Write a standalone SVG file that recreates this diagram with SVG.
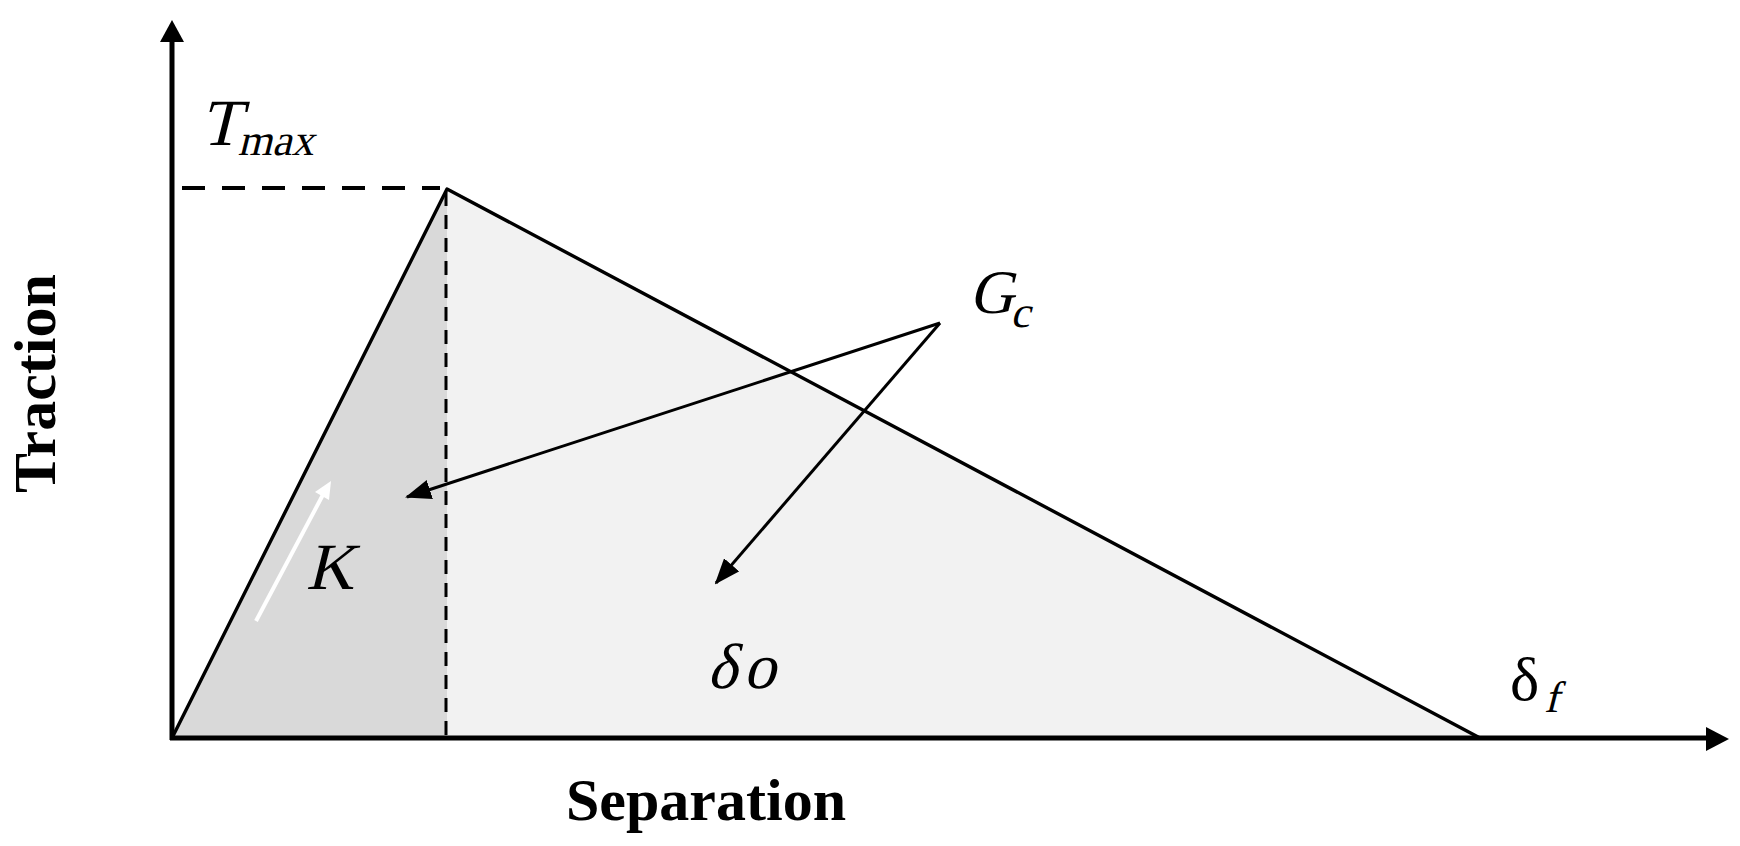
<svg xmlns="http://www.w3.org/2000/svg" width="1740" height="846" viewBox="0 0 1740 846">
<style>
.serif{font-family:"Liberation Serif","Times New Roman",serif;fill:#000}
.bold{font-weight:bold}
.edge{fill:none;stroke:#000;stroke-width:3.4;stroke-linejoin:round}
</style>
<defs>
<marker id="ah" viewBox="0 0 26 20" refX="24" refY="10" markerWidth="26" markerHeight="20" markerUnits="userSpaceOnUse" orient="auto">
<path d="M0,0 L26,10 L0,20 z" fill="#000"/>
</marker>
</defs>
<rect width="1740" height="846" fill="#fff"/>
<g id="areas">
<polygon points="172,738 447,189 447,738" fill="#d9d9d9"/>
<polygon points="447,189 1480,738 447,738" fill="#f2f2f2"/>
</g>
<g id="curve">
<polyline class="edge" points="172,738 447,189 1480,738"/>
<line x1="446" y1="192" x2="446" y2="738" stroke="#000" stroke-width="3" stroke-dasharray="14,9"/>
<line x1="172" y1="188" x2="440" y2="188" stroke="#000" stroke-width="4" stroke-dasharray="23,17" stroke-dashoffset="-10"/>
</g>
<g id="axes">
<line x1="172" y1="740" x2="172" y2="40" stroke="#000" stroke-width="5"/>
<polygon points="172,20 160,42 184,42" fill="#000"/>
<line x1="170" y1="738" x2="1708" y2="738" stroke="#000" stroke-width="5"/>
<polygon points="1729,739 1706,727 1706,751" fill="#000"/>
</g>
<g id="connectors">
<line x1="940" y1="323" x2="407" y2="497" stroke="#000" stroke-width="3" marker-end="url(#ah)"/>
<line x1="940" y1="323" x2="716" y2="583" stroke="#000" stroke-width="3" marker-end="url(#ah)"/>
<line x1="256" y1="621" x2="326" y2="489" stroke="#fff" stroke-width="4"/>
<polygon points="331,481 315,492 329,500" fill="#fff"/>
</g>
<g id="labels">
<text class="serif" transform="translate(200,145) skewX(-14)" font-size="66">T<tspan font-size="44" dy="10">max</tspan></text>
<text class="serif" transform="translate(969,313) skewX(-14)" font-size="62">G<tspan font-size="44" dy="14">c</tspan></text>
<text class="serif" transform="translate(306,589) skewX(-14)" font-size="66">K</text>
<text class="serif" transform="translate(707,688) skewX(-14)" font-size="64">δ<tspan dx="6">o</tspan></text>
<text class="serif" x="1510" y="700" font-size="62">δ</text>
<text class="serif" transform="translate(1544,712) skewX(-14)" font-size="44">f</text>
<text class="serif bold" x="566" y="820" font-size="60">Separation</text>
<text class="serif bold" font-size="60" transform="translate(55,493) rotate(-90)">Traction</text>
</g>
</svg>
